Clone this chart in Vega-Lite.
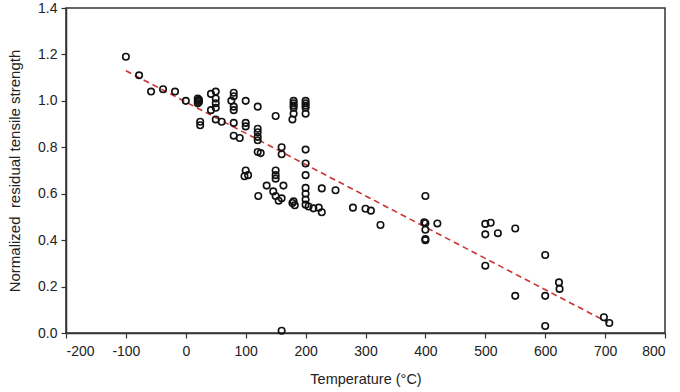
{
  "$schema": "https://vega.github.io/schema/vega-lite/v6.json",
  "autosize": {"type": "none"},
  "width": 599,
  "height": 325,
  "padding": {"left": 66, "top": 8, "right": 15, "bottom": 59},
  "background": "white",
  "config": {
    "view": {"stroke": "#333333", "strokeWidth": 1.5},
    "font": "Liberation Sans",
    "axis": {
      "grid": false,
      "domainColor": "#333333",
      "domainWidth": 1.5,
      "tickColor": "#333333",
      "tickWidth": 1.2,
      "tickSize": 5,
      "labelFont": "Liberation Sans",
      "labelFontSize": 14,
      "labelColor": "#222222",
      "titleFont": "Liberation Sans",
      "titleFontSize": 14.5,
      "titleFontWeight": "normal",
      "titleColor": "#222222"
    }
  },
  "datasets": {
    "pts": [
      {"t": -100, "s": 1.19}, {"t": -78, "s": 1.11}, {"t": -58, "s": 1.04}, {"t": -38, "s": 1.05}, {"t": -18, "s": 1.04},
      {"t": 0, "s": 1.0}, {"t": 20, "s": 1.0}, {"t": 20, "s": 1.01}, {"t": 20, "s": 0.99}, {"t": 22, "s": 1.005},
      {"t": 22, "s": 0.995}, {"t": 24, "s": 0.91}, {"t": 24, "s": 0.895}, {"t": 42, "s": 1.03}, {"t": 42, "s": 0.96},
      {"t": 50, "s": 1.04}, {"t": 50, "s": 1.01}, {"t": 50, "s": 0.99}, {"t": 50, "s": 0.97}, {"t": 50, "s": 0.92},
      {"t": 60, "s": 0.91}, {"t": 76, "s": 1.0}, {"t": 80, "s": 1.035}, {"t": 80, "s": 1.02}, {"t": 80, "s": 0.975},
      {"t": 80, "s": 0.96}, {"t": 80, "s": 0.905}, {"t": 80, "s": 0.85}, {"t": 90, "s": 0.84}, {"t": 100, "s": 1.0},
      {"t": 100, "s": 0.905}, {"t": 100, "s": 0.89}, {"t": 100, "s": 0.7}, {"t": 98, "s": 0.675}, {"t": 104, "s": 0.68},
      {"t": 120, "s": 0.975}, {"t": 120, "s": 0.88}, {"t": 120, "s": 0.865}, {"t": 120, "s": 0.845}, {"t": 120, "s": 0.83},
      {"t": 120, "s": 0.78}, {"t": 125, "s": 0.775}, {"t": 121, "s": 0.59}, {"t": 135, "s": 0.635}, {"t": 146, "s": 0.61},
      {"t": 150, "s": 0.935}, {"t": 150, "s": 0.7}, {"t": 150, "s": 0.68}, {"t": 150, "s": 0.665}, {"t": 150, "s": 0.59},
      {"t": 155, "s": 0.57}, {"t": 160, "s": 0.58}, {"t": 160, "s": 0.8}, {"t": 160, "s": 0.77}, {"t": 163, "s": 0.635},
      {"t": 160, "s": 0.01}, {"t": 178, "s": 0.92}, {"t": 180, "s": 0.945}, {"t": 180, "s": 1.0}, {"t": 180, "s": 0.99},
      {"t": 180, "s": 0.98}, {"t": 180, "s": 0.97}, {"t": 178, "s": 0.56}, {"t": 180, "s": 0.567}, {"t": 182, "s": 0.55},
      {"t": 200, "s": 1.0}, {"t": 200, "s": 0.99}, {"t": 200, "s": 0.98}, {"t": 200, "s": 0.97}, {"t": 200, "s": 0.945},
      {"t": 200, "s": 0.79}, {"t": 200, "s": 0.73}, {"t": 200, "s": 0.68}, {"t": 200, "s": 0.625}, {"t": 200, "s": 0.6},
      {"t": 200, "s": 0.575}, {"t": 200, "s": 0.553}, {"t": 205, "s": 0.545}, {"t": 213, "s": 0.537}, {"t": 222, "s": 0.54},
      {"t": 227, "s": 0.52}, {"t": 227, "s": 0.623}, {"t": 250, "s": 0.615}, {"t": 279, "s": 0.54}, {"t": 300, "s": 0.535},
      {"t": 309, "s": 0.527}, {"t": 325, "s": 0.465}, {"t": 400, "s": 0.59}, {"t": 398, "s": 0.477}, {"t": 400, "s": 0.473},
      {"t": 400, "s": 0.445}, {"t": 400, "s": 0.405}, {"t": 400, "s": 0.4}, {"t": 420, "s": 0.472}, {"t": 500, "s": 0.47},
      {"t": 509, "s": 0.475}, {"t": 500, "s": 0.425}, {"t": 521, "s": 0.43}, {"t": 550, "s": 0.45}, {"t": 500, "s": 0.29},
      {"t": 550, "s": 0.16}, {"t": 600, "s": 0.336}, {"t": 600, "s": 0.16}, {"t": 600, "s": 0.03}, {"t": 623, "s": 0.218},
      {"t": 624, "s": 0.19}, {"t": 698, "s": 0.068}, {"t": 707, "s": 0.043}
    ],
    "fit": [
      {"t": -100, "s": 1.13},
      {"t": 705, "s": 0.045}
    ]
  },
  "layer": [
    {
      "data": {"name": "fit"},
      "mark": {"type": "line", "color": "#cc3333", "strokeWidth": 1.6, "strokeDash": [6, 4]},
      "encoding": {
        "x": {"field": "t", "type": "quantitative"},
        "y": {"field": "s", "type": "quantitative"}
      }
    },
    {
      "data": {"name": "pts"},
      "mark": {"type": "point", "shape": "circle", "filled": false, "stroke": "#111111", "strokeWidth": 1.6, "size": 42, "opacity": 1},
      "encoding": {
        "x": {
          "field": "t", "type": "quantitative",
          "scale": {"domain": [-200, 800], "nice": false, "zero": false},
          "axis": {"values": [-200, -100, 0, 100, 200, 300, 400, 500, 600, 700, 800], "labelExpr": "'' + datum.value", "title": "Temperature (°C)", "labelPadding": 6, "titlePadding": 14}
        },
        "y": {
          "field": "s", "type": "quantitative",
          "scale": {"domain": [0, 1.4], "nice": false},
          "axis": {"values": [0, 0.2, 0.4, 0.6, 0.8, 1.0, 1.2, 1.4], "format": ".1f", "title": "Normalized \u00a0residual tensile strength", "titleFontSize": 15, "labelPadding": 4, "titlePadding": 15}
        }
      }
    }
  ]
}
